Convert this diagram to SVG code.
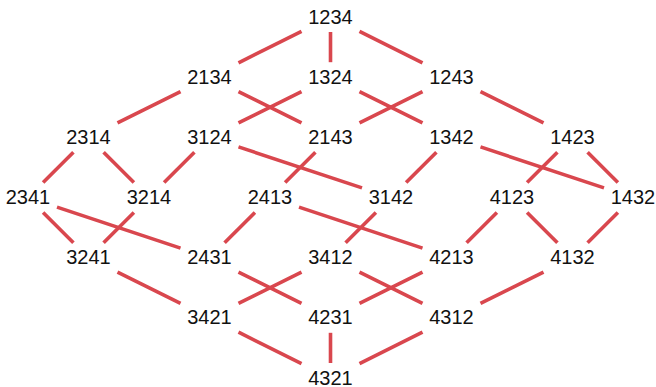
<svg xmlns="http://www.w3.org/2000/svg" width="656" height="387" viewBox="0 0 656 387">
<style>
text{font-family:"Liberation Sans",Arial,sans-serif;font-size:20px;fill:#111;text-anchor:middle}
#edges line{stroke:#d9474e;stroke-width:3.6;stroke-linecap:butt}
</style>
<rect width="656" height="387" fill="#fff"/>
<g id="edges">
<line x1="301.5" y1="31.4" x2="238.5" y2="62.8"/>
<line x1="330.5" y1="32" x2="330.5" y2="62.2"/>
<line x1="359.5" y1="31.4" x2="422.5" y2="62.8"/>
<line x1="180.5" y1="91.6" x2="117.5" y2="122.9"/>
<line x1="238.5" y1="91.6" x2="301.5" y2="122.9"/>
<line x1="301.5" y1="91.6" x2="238.5" y2="122.9"/>
<line x1="359.5" y1="91.6" x2="422.5" y2="122.9"/>
<line x1="422.5" y1="91.6" x2="359.5" y2="122.9"/>
<line x1="480.5" y1="91.6" x2="543.5" y2="122.9"/>
<line x1="73.4" y1="152.3" x2="43.1" y2="182.5"/>
<line x1="103.6" y1="152.3" x2="133.9" y2="182.5"/>
<line x1="194.4" y1="152.3" x2="164.1" y2="182.5"/>
<line x1="238.5" y1="146.9" x2="362" y2="187.9"/>
<line x1="315.4" y1="152.3" x2="285.1" y2="182.5"/>
<line x1="436.4" y1="152.3" x2="406.1" y2="182.5"/>
<line x1="480.5" y1="146.9" x2="604" y2="187.9"/>
<line x1="557.4" y1="152.3" x2="527.1" y2="182.5"/>
<line x1="587.6" y1="152.3" x2="617.9" y2="182.5"/>
<line x1="43.1" y1="212.5" x2="73.4" y2="242.7"/>
<line x1="57" y1="207.1" x2="180.5" y2="248.1"/>
<line x1="133.9" y1="212.5" x2="103.6" y2="242.7"/>
<line x1="254.9" y1="212.5" x2="224.6" y2="242.7"/>
<line x1="299" y1="207.1" x2="422.5" y2="248.1"/>
<line x1="375.9" y1="212.5" x2="345.6" y2="242.7"/>
<line x1="496.9" y1="212.5" x2="466.6" y2="242.7"/>
<line x1="527.1" y1="212.5" x2="557.4" y2="242.7"/>
<line x1="617.9" y1="212.5" x2="587.6" y2="242.7"/>
<line x1="117.5" y1="272.1" x2="180.5" y2="303.4"/>
<line x1="238.5" y1="272.1" x2="301.5" y2="303.4"/>
<line x1="301.5" y1="272.1" x2="238.5" y2="303.4"/>
<line x1="359.5" y1="272.1" x2="422.5" y2="303.4"/>
<line x1="422.5" y1="272.1" x2="359.5" y2="303.4"/>
<line x1="543.5" y1="272.1" x2="480.5" y2="303.4"/>
<line x1="238.5" y1="332.2" x2="301.5" y2="363.6"/>
<line x1="330.5" y1="332.8" x2="330.5" y2="363"/>
<line x1="422.5" y1="332.2" x2="359.5" y2="363.6"/>
</g>
<g id="n1234"><text x="330.5" y="23.5">1234</text></g>
<g id="n2134"><text x="209.5" y="83.7">2134</text></g>
<g id="n1324"><text x="330.5" y="83.7">1324</text></g>
<g id="n1243"><text x="451.5" y="83.7">1243</text></g>
<g id="n2314"><text x="88.5" y="143.8">2314</text></g>
<g id="n3124"><text x="209.5" y="143.8">3124</text></g>
<g id="n2143"><text x="330.5" y="143.8">2143</text></g>
<g id="n1342"><text x="451.5" y="143.8">1342</text></g>
<g id="n1423"><text x="572.5" y="143.8">1423</text></g>
<g id="n2341"><text x="28" y="204">2341</text></g>
<g id="n3214"><text x="149" y="204">3214</text></g>
<g id="n2413"><text x="270" y="204">2413</text></g>
<g id="n3142"><text x="391" y="204">3142</text></g>
<g id="n4123"><text x="512" y="204">4123</text></g>
<g id="n1432"><text x="633" y="204">1432</text></g>
<g id="n3241"><text x="88.5" y="264.2">3241</text></g>
<g id="n2431"><text x="209.5" y="264.2">2431</text></g>
<g id="n3412"><text x="330.5" y="264.2">3412</text></g>
<g id="n4213"><text x="451.5" y="264.2">4213</text></g>
<g id="n4132"><text x="572.5" y="264.2">4132</text></g>
<g id="n3421"><text x="209.5" y="324.3">3421</text></g>
<g id="n4231"><text x="330.5" y="324.3">4231</text></g>
<g id="n4312"><text x="451.5" y="324.3">4312</text></g>
<g id="n4321"><text x="330.5" y="384.5">4321</text></g>
</svg>
